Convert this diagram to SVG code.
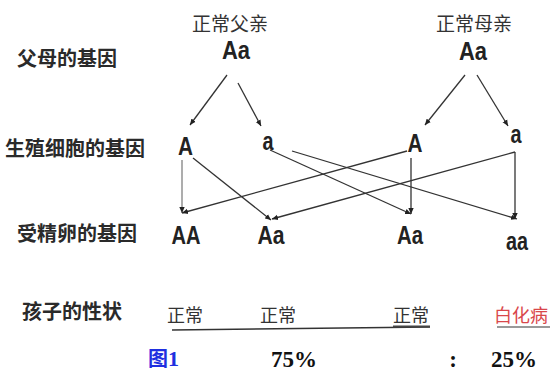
<svg xmlns="http://www.w3.org/2000/svg" width="550" height="374" viewBox="0 0 550 374">
<defs>
<style>
.lbl{font-family:"Noto Sans CJK SC","Noto Sans",sans-serif;font-size:20px;fill:#2a2a2a;font-weight:bold}
.par{font-family:"Noto Sans CJK SC","Noto Sans",sans-serif;font-size:19px;fill:#333;text-anchor:middle}
.gene{font-family:"Liberation Sans","DejaVu Sans",sans-serif;font-size:25px;font-weight:bold;fill:#222;text-anchor:middle}
.trait{font-family:"Noto Sans CJK SC",sans-serif;font-size:18px;fill:#333;text-anchor:middle}
.pct{font-family:"Liberation Serif",serif;font-size:23px;font-weight:bold;fill:#111;text-anchor:middle}
.ln{stroke:#333;stroke-width:1.3;fill:none;marker-end:url(#ah)}
</style>
<marker id="ah" markerUnits="userSpaceOnUse" markerWidth="7" markerHeight="7" refX="6" refY="3.5" orient="auto">
<path d="M0,0.8 L6,3.5 L0,6.2 Z" fill="#222"/>
</marker>
</defs>
<rect width="550" height="374" fill="#fff"/>

<g id="row-labels">
<text class="lbl" x="17" y="66">父母的基因</text>
<text class="lbl" x="5" y="156">生殖细胞的基因</text>
<text class="lbl" x="17" y="241">受精卵的基因</text>
<text class="lbl" x="22" y="319">孩子的性状</text>
</g>

<g id="father">
<text class="par" x="230" y="31">正常父亲</text>
<text class="gene" x="236" y="59" textLength="28" lengthAdjust="spacingAndGlyphs">Aa</text>
</g>
<g id="mother">
<text class="par" x="474" y="31">正常母亲</text>
<text class="gene" x="473" y="60" textLength="28" lengthAdjust="spacingAndGlyphs">Aa</text>
</g>

<g id="gamete-father-A"><text class="gene" x="185.5" y="155" textLength="15" lengthAdjust="spacingAndGlyphs">A</text></g>
<g id="gamete-father-a"><text class="gene" x="268" y="150" textLength="11" lengthAdjust="spacingAndGlyphs">a</text></g>
<g id="gamete-mother-A"><text class="gene" x="415" y="152" textLength="15" lengthAdjust="spacingAndGlyphs">A</text></g>
<g id="gamete-mother-a"><text class="gene" x="516" y="143" textLength="11" lengthAdjust="spacingAndGlyphs">a</text></g>

<g id="zygote-AA"><text class="gene" x="186" y="244" textLength="29" lengthAdjust="spacingAndGlyphs">AA</text></g>
<g id="zygote-Aa1"><text class="gene" x="271" y="244" textLength="27" lengthAdjust="spacingAndGlyphs">Aa</text></g>
<g id="zygote-Aa2"><text class="gene" x="410" y="244" textLength="26" lengthAdjust="spacingAndGlyphs">Aa</text></g>
<g id="zygote-aa"><text class="gene" x="517" y="250" textLength="22" lengthAdjust="spacingAndGlyphs">aa</text></g>

<g id="connectors">
<line class="ln" x1="227" y1="75" x2="190" y2="125"/>
<line class="ln" x1="238" y1="83" x2="261" y2="126"/>
<line class="ln" x1="465" y1="75" x2="425" y2="125"/>
<line class="ln" x1="477" y1="75" x2="508" y2="126"/>
<line class="ln" x1="182" y1="160" x2="182" y2="213" style="stroke:#999;stroke-width:1.6"/>
<line class="ln" x1="193" y1="158" x2="271" y2="220"/>
<line class="ln" x1="270" y1="150" x2="411" y2="214"/>
<line class="ln" x1="292" y1="151" x2="517" y2="219"/>
<polyline class="ln" points="407,151 182,213"/>
<line class="ln" x1="411" y1="158" x2="411" y2="214"/>
<polyline class="ln" points="515,152 272,219"/>
<line class="ln" x1="515" y1="152" x2="515" y2="219"/>
</g>

<g id="traits">
<text class="trait" x="185" y="322">正常</text>
<text class="trait" x="278" y="322">正常</text>
<text class="trait" x="411" y="322">正常</text>
<text class="trait" x="521" y="322" style="fill:#d9474b">白化病</text>
<line x1="172" y1="330" x2="430" y2="327" stroke="#333" stroke-width="1.5"/>
<line x1="393" y1="326.5" x2="430" y2="326.5" stroke="#444" stroke-width="2"/>
<line x1="497" y1="327" x2="550" y2="327" stroke="#777" stroke-width="1.5"/>
</g>

<g id="ratio">
<text x="148" y="366" style="font-family:'Noto Sans CJK SC',sans-serif;font-size:20px;font-weight:bold;fill:#1f2fe0">图<tspan style="font-family:'Liberation Serif',serif;font-size:22px">1</tspan></text>
<text class="pct" x="294" y="367">75%</text>
<text class="pct" x="453" y="367">:</text>
<text class="pct" x="514" y="367">25%</text>
</g>
</svg>
